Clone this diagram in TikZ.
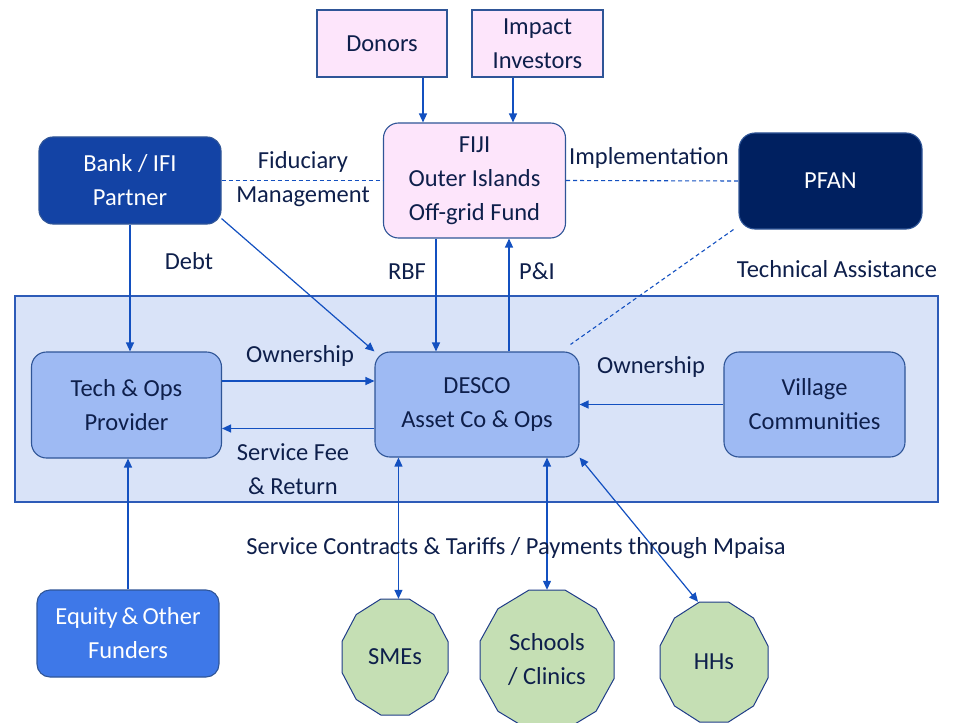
\documentclass[tikz,border=0pt]{standalone}
\usepackage{fontspec}
\setmainfont{Carlito}
\usetikzlibrary{arrows.meta,calc}

\definecolor{ink}{HTML}{0E1F4B}
\definecolor{edge}{HTML}{2F5597}
\definecolor{flow}{HTML}{1350C0}
\definecolor{pinkfill}{HTML}{FDE5FB}
\definecolor{bankfill}{HTML}{1343A5}
\definecolor{pfanfill}{HTML}{002060}
\definecolor{bandfill}{HTML}{D9E3F8}
\definecolor{bandedge}{HTML}{2D5BB8}
\definecolor{unitfill}{HTML}{9EBAF3}
\definecolor{equityfill}{HTML}{3E78E8}
\definecolor{userfill}{HTML}{C5DFB4}
\definecolor{useredge}{HTML}{1F3C88}

% twelve-sided customer shape: centre (#1,#2), half width #3, half height #4 (across flats)
\newcommand\drawdodeca[4]{%
  \draw[userpoly] plot[samples at={15,45,...,345}]
    ({#1+#3/cos(15)*cos(\x)},{#2+#4/cos(15)*sin(\x)}) -- cycle;}

\begin{document}
\begin{tikzpicture}[x=1pt,y=-1pt,
  font=\fontsize{24.5}{34}\selectfont, text=ink,
  box/.style={draw=edge, line width=1.1pt, align=center, inner sep=0pt},
  sourcebox/.style={box, fill=pinkfill},
  fundbox/.style={box, fill=pinkfill, rounded corners=15pt},
  darkbox/.style={box, rounded corners=14pt, text=white},
  unitbox/.style={box, fill=unitfill, rounded corners=15pt},
  usertext/.style={inner sep=0pt, align=center},
  userpoly/.style={draw=useredge, line width=1pt, fill=userfill},
  lbl/.style={inner sep=0pt, text height=18pt, text depth=5pt},
  lbltwo/.style={inner sep=0pt, align=center},
  arr/.style={draw=flow, line width=1.2pt, -{Triangle[length=9pt,width=8pt]}},
  darr/.style={draw=flow, line width=1.2pt, {Triangle[length=9pt,width=8pt]}-{Triangle[length=9pt,width=8pt]}},
  link/.style={draw=flow, line width=1.1pt, dash pattern=on 4pt off 3pt}
]
\useasboundingbox (0,0) rectangle (957,722);

% operating band
\node[draw=bandedge, line width=1.2pt, fill=bandfill, minimum width=923pt, minimum height=206pt, inner sep=0pt] (band) at (476.5,399) {};

% funding sources and fund
\node[sourcebox, minimum width=130pt, minimum height=67pt] (donors) at (382,43.5) {Donors};
\node[sourcebox, minimum width=131pt, minimum height=67pt] (impact) at (537.5,43.5) {Impact\\Investors};
\node[fundbox, minimum width=182pt, minimum height=115pt] (fund) at (474.5,180.5) {FIJI\\Outer Islands\\Off-grid Fund};
\node[darkbox, fill=bankfill, minimum width=182pt, minimum height=87pt] (bank) at (130,180.5) {Bank / IFI\\Partner};
\node[darkbox, fill=pfanfill, rounded corners=16pt, minimum width=183pt, minimum height=96pt] (pfan) at (830.5,181) {PFAN};

% operating entities
\node[unitbox, minimum width=190pt, minimum height=106pt] (tech) at (126.5,405) {Tech \& Ops\\Provider};
\node[unitbox, minimum width=204pt, minimum height=105pt] (desco) at (477,404.5) {DESCO\\Asset Co \& Ops};
\node[unitbox, minimum width=181pt, minimum height=105pt] (village) at (814.5,404.5) {Village\\Communities};
\node[darkbox, fill=equityfill, rounded corners=13pt, minimum width=182pt, minimum height=87pt] (equity) at (128,633.5) {Equity\,\&\,Other\\Funders};

% customers
\drawdodeca{395}{657}{53}{58}
\drawdodeca{547}{660}{67}{70}
\drawdodeca{714}{662}{54}{60}
\node[usertext, minimum width=106pt, minimum height=116pt] (sme) at (395,657) {SMEs};
\node[usertext, minimum width=134pt, minimum height=140pt] (school) at (547,660) {Schools\\/ Clinics};
\node[usertext, minimum width=108pt, minimum height=120pt] (hh) at (714,662) {HHs};

% dashed relationships
\draw[link] (bank.east) -- (fund.west);
\draw[link] (fund.east) -- (pfan.west);
\draw[link] ([xshift=-5pt]pfan.south west) -- ([xshift=-9pt,yshift=7pt]desco.north east);

% capital flows into the fund
\coordinate (dn) at ([xshift=41pt]donors.south);
\coordinate (im) at ([xshift=-24.5pt]impact.south);
\draw[arr] (dn) -- (dn |- fund.north);
\draw[arr] (im) -- (im |- fund.north);

% fund and DESCO
\coordinate (rbf) at ([xshift=-38.5pt]fund.south);
\coordinate (pni) at ([xshift=32pt]desco.north);
\draw[arr] (rbf) -- (rbf |- desco.north);
\draw[arr] (pni) -- (pni |- fund.south);

% bank lending
\draw[arr] (bank.south) -- (bank.south |- tech.north);
\draw[arr] ([yshift=6pt]bank.south east) -- (desco.north west);

% within the band
\coordinate (own) at ([yshift=24pt]tech.east);
\coordinate (fee) at ([yshift=-24pt]desco.west);
\draw[arr] (own) -- (own -| desco.west);
\draw[arr] (fee) -- (fee -| tech.east);
\draw[arr] (village.west) -- (desco.east);
\draw[arr] (equity.north) -- (equity.north |- tech.south);

% customer contracts
\coordinate (sm) at ([xshift=24pt]desco.south west);
\draw[darr] (sm) -- (sm |- sme.north);
\draw[darr] (school.north |- desco.south) -- (school.north);
\draw[darr] (desco.south east) -- ([xshift=-16pt]hh.north);

% labels
\node[lbltwo] (lfid) at (303,179) {Fiduciary\\Management};
\node[lbl] (limp) at (649,158) {Implementation};
\node[lbl] (ldebt) at (189,263) {Debt};
\node[lbl] (lrbf) at (407,273) {RBF};
\node[lbl] (lpni) at (537,273) {P\&I};
\node[lbl] (lta) at (837,271) {Technical Assistance};
\node[lbl] (lown) at (300,356) {Ownership};
\node[lbltwo] (lfee) at (293,469) {Service Fee\\\& Return};
\node[lbl] (lown2) at (651,367) {Ownership};
\node[lbl] (lsvc) at (516,548) {Service Contracts \& Tariffs / Payments through Mpaisa};
\end{tikzpicture}
\end{document}
